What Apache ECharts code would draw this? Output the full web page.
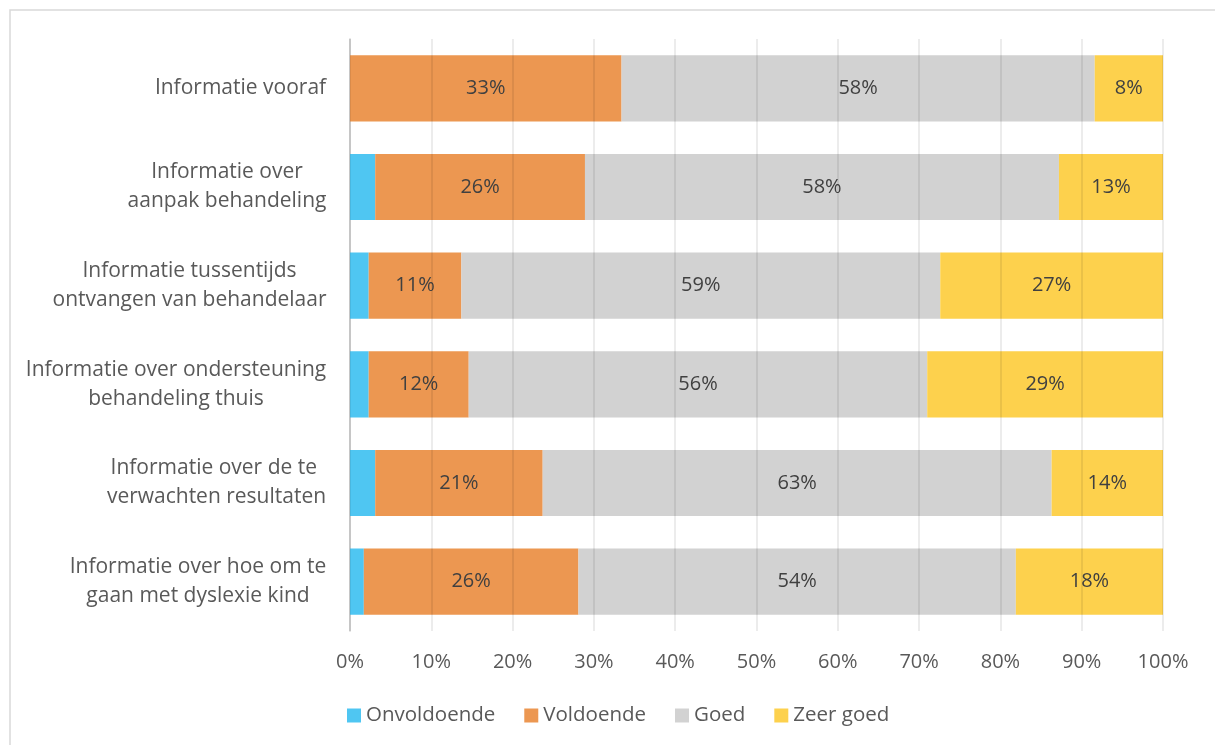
<!DOCTYPE html>
<html>
<head>
<meta charset="utf-8">
<script src="https://cdn.jsdelivr.net/npm/echarts@6/dist/echarts.min.js"></script>
<style>
  html, body { margin: 0; padding: 0; background: #ffffff; }
  #chart { width: 1215px; height: 745px; }
</style>
</head>
<body>
<div id="chart"></div>
<script>
// Survey topics (one bar each), top to bottom
const categories = [
  'Informatie vooraf',
  'Informatie over\naanpak behandeling',
  'Informatie tussentijds\nontvangen van behandelaar',
  'Informatie over ondersteuning\nbehandeling thuis',
  'Informatie over de te \nverwachten resultaten',
  'Informatie over hoe om te\ngaan met dyslexie kind'
];

// Share of answers per rating, in percent
const onvoldoende = [0.0, 3.1, 2.3, 2.3, 3.1, 1.7];
const voldoende   = [33.4, 25.8, 11.4, 12.3, 20.6, 26.4];
const goed        = [58.2, 58.3, 58.9, 56.4, 62.6, 53.8];
const zeerGoed    = [8.4, 12.8, 27.4, 29.0, 13.7, 18.1];

const seriesNames = ['Onvoldoende', 'Voldoende', 'Goed', 'Zeer goed'];
const colors = ['#4FC6F2', '#EC9751', '#D2D2D2', '#FDD14D'];

const FONT = 'Open Sans';
const LABEL_SIZE = 21;

// Each category label is a right-aligned block whose lines are centred on each other:
// give every line of a label the width of its longest line.
const measureCtx = document.createElement('canvas').getContext('2d');
measureCtx.font = LABEL_SIZE + 'px "' + FONT + '"';
const rich = {};
categories.forEach(function (c, i) {
  const w = Math.max.apply(null, c.split('\n').map(function (l) { return measureCtx.measureText(l).width; }));
  rich['c' + i] = {
    width: Math.ceil(w) + 1,
    align: 'center',
    fontSize: LABEL_SIZE,
    fontFamily: FONT,
    color: '#595959',
    lineHeight: 29
  };
});

const chart = echarts.init(document.getElementById('chart'), null, { renderer: 'canvas' });

function barSeries(name, data, idx, withLabel) {
  return {
    name: name,
    type: 'bar',
    stack: 'total',
    data: data,
    barWidth: '67%',
    itemStyle: { color: colors[idx] },
    label: {
      show: withLabel,
      position: 'inside',
      color: '#404040',
      fontSize: 20,
      fontFamily: FONT,
      formatter: function (p) { return Math.round(p.value) + '%'; }
    },
    emphasis: { disabled: true },
    z: 2
  };
}

chart.setOption({
  animation: false,
  backgroundColor: '#ffffff',
  textStyle: { fontFamily: FONT },
  graphic: [{
    type: 'rect',
    shape: { x: 10, y: 10, width: 1220, height: 760 },
    style: { fill: 'none', stroke: '#d9d9d9', lineWidth: 1.5 },
    silent: true
  }],
  grid: { left: 350, right: 52, top: 39, bottom: 114 },
  legend: {
    bottom: 14,
    left: 342,
    icon: 'rect',
    itemWidth: 14,
    itemHeight: 14,
    itemGap: 29,
    selectedMode: false,
    textStyle: { color: '#595959', fontSize: 20.5, fontFamily: FONT },
    data: seriesNames
  },
  xAxis: {
    type: 'value',
    min: 0,
    max: 100,
    interval: 10,
    z: 3,
    axisLine: { show: false },
    axisTick: { show: false },
    axisLabel: {
      formatter: '{value}%',
      color: '#595959',
      fontSize: 20,
      fontFamily: FONT,
      margin: 21
    },
    splitLine: { show: true, lineStyle: { color: 'rgba(0,0,0,0.1)', width: 1.5 } }
  },
  yAxis: {
    type: 'category',
    inverse: true,
    data: categories,
    axisLine: { show: true, lineStyle: { color: '#c8c8c8', width: 1.5 } },
    axisTick: { show: false },
    axisLabel: {
      margin: 23,
      formatter: function (value, i) {
        return value.split('\n').map(function (l) { return '{c' + i + '|' + l + '}'; }).join('\n');
      },
      rich: rich
    }
  },
  series: [
    barSeries(seriesNames[0], onvoldoende, 0, false),
    barSeries(seriesNames[1], voldoende, 1, true),
    barSeries(seriesNames[2], goed, 2, true),
    barSeries(seriesNames[3], zeerGoed, 3, true)
  ]
});
</script>
</body>
</html>
